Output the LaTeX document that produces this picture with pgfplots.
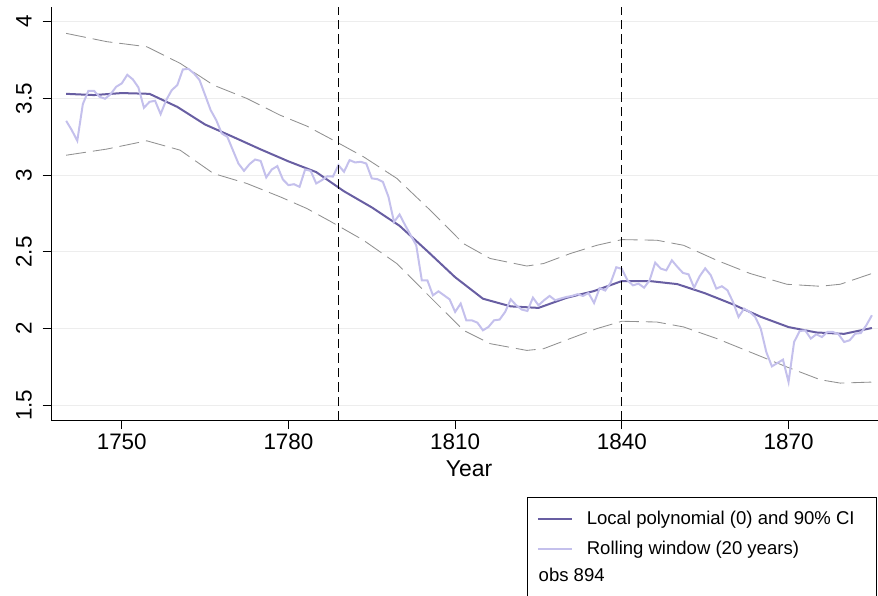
\documentclass[border=0pt]{standalone}
\usepackage{fontspec}
\setmainfont{Liberation Sans}
\usepackage{pgfplots}
\usepackage{pgfplotstable}
\pgfplotsset{compat=1.18}
\definecolor{lp}{RGB}{104,94,162}
\definecolor{rw}{RGB}{196,192,236}
\definecolor{ci}{RGB}{145,145,145}

\pgfplotstableread{
year val
1740 3.530
1745 3.522
1750 3.535
1755 3.530
1760 3.445
1765 3.330
1770 3.250
1775 3.168
1780 3.090
1785 3.020
1790 2.895
1795 2.790
1800 2.670
1805 2.505
1810 2.335
1815 2.195
1820 2.145
1825 2.135
1830 2.200
1835 2.245
1840 2.310
1845 2.310
1850 2.290
1855 2.230
1860 2.158
1865 2.077
1870 2.010
1875 1.975
1880 1.966
1885 2.004
}\lpolytab

\pgfplotstableread{
year val
1740 3.924
1747.3 3.870
1754.5 3.837
1760.5 3.729
1766.5 3.587
1772.5 3.500
1778.5 3.391
1783.3 3.320
1787.5 3.239
1793.5 3.120
1799.5 2.979
1805.5 2.772
1811.5 2.554
1816.3 2.457
1822.9 2.408
1825.9 2.424
1830.7 2.489
1835.5 2.543
1840 2.580
1846.3 2.576
1851.1 2.543
1857.1 2.445
1863.1 2.359
1869.7 2.289
1875.7 2.276
1879.3 2.289
1885.3 2.363
}\upperci

\pgfplotstableread{
year val
1740 3.130
1747.3 3.170
1754.5 3.224
1760.5 3.163
1766.5 3.011
1772.5 2.946
1778.5 2.859
1783.3 2.783
1787.5 2.700
1793.5 2.576
1799.5 2.424
1805.5 2.206
1811.5 1.989
1816.3 1.902
1822.9 1.858
1825.9 1.869
1830.7 1.935
1835.5 2.000
1840 2.048
1846.3 2.043
1851.1 2.011
1857.1 1.935
1863.1 1.847
1869.7 1.750
1875.7 1.667
1879.3 1.645
1885.3 1.652
}\lowerci

\pgfplotstableread{
year val
1740 3.354
1741 3.294
1742 3.224
1743 3.463
1744 3.550
1745 3.550
1746 3.511
1747 3.498
1748 3.528
1749 3.576
1750 3.598
1751 3.654
1752 3.624
1753 3.572
1754 3.439
1755 3.478
1756 3.485
1757 3.398
1758 3.489
1759 3.554
1760 3.587
1761 3.689
1762 3.693
1763 3.663
1764 3.620
1765 3.522
1766 3.424
1767 3.359
1768 3.272
1769 3.250
1770 3.163
1771 3.076
1772 3.028
1773 3.072
1774 3.102
1775 3.093
1776 2.985
1777 3.037
1778 3.059
1779 2.972
1780 2.935
1781 2.941
1782 2.924
1783 3.037
1784 3.028
1785 2.946
1786 2.967
1787 2.993
1788 2.991
1789 3.065
1790 3.022
1791 3.098
1792 3.083
1793 3.087
1794 3.076
1795 2.979
1796 2.974
1797 2.956
1798 2.859
1799 2.695
1800 2.744
1801 2.674
1802 2.609
1803 2.543
1804 2.315
1805 2.315
1806 2.217
1807 2.243
1808 2.217
1809 2.191
1810 2.109
1811 2.163
1812 2.054
1813 2.054
1814 2.039
1815 1.989
1816 2.011
1817 2.054
1818 2.059
1819 2.109
1820 2.191
1821 2.152
1822 2.124
1823 2.115
1824 2.202
1825 2.152
1826 2.185
1827 2.213
1828 2.185
1829 2.196
1830 2.206
1831 2.213
1832 2.224
1833 2.213
1834 2.232
1835 2.167
1836 2.264
1837 2.248
1838 2.300
1839 2.400
1840 2.389
1841 2.315
1842 2.282
1843 2.293
1844 2.267
1845 2.315
1846 2.430
1847 2.391
1848 2.380
1849 2.445
1850 2.402
1851 2.363
1852 2.354
1853 2.267
1854 2.341
1855 2.393
1856 2.348
1857 2.261
1858 2.276
1859 2.250
1860 2.174
1861 2.076
1862 2.130
1863 2.109
1864 2.076
1865 2.000
1866 1.847
1867 1.754
1868 1.776
1869 1.798
1870 1.652
1871 1.913
1872 1.984
1873 1.989
1874 1.935
1875 1.963
1876 1.945
1877 1.978
1878 1.978
1879 1.963
1880 1.913
1881 1.924
1882 1.967
1883 1.971
1884 2.022
1885 2.087
}\rolltab

\begin{document}
\begin{tikzpicture}[x=1bp,y=1bp]
\path[use as bounding box] (0,0) rectangle (878,596);
\begin{axis}[
  at={(51bp,175.3bp)}, anchor=south west,
  scale only axis, width=827bp, height=413.7bp,
  xmin=1737.27, xmax=1886.1, ymin=1.4, ymax=4.096,
  axis x line=bottom, axis y line=left,
  axis line style={-, line width=1bp, black},
  xtick={1750,1780,1810,1840,1870},
  ytick={1.5,2,2.5,3,3.5,4},
  yticklabels={1.5,2,2.5,3,3.5,4},
  xticklabels={1750,1780,1810,1840,1870},
  tick align=outside, major tick length=8.5bp,
  tick style={black, line width=1bp},
  ymajorgrids, major grid style={line width=0.8bp, color=black!7},
  xticklabel style={font=\fontsize{22.5}{27}\selectfont, anchor=base, inner sep=0pt, yshift=-20.8bp},
  yticklabel style={font=\fontsize{22.5}{27}\selectfont, xshift=-10.8bp, rotate=90, anchor=base, inner sep=0pt},
  xlabel={Year},
  xlabel style={at={(axis description cs:0.5054,-0.1354)}, anchor=base, font=\fontsize{23}{27}\selectfont, inner sep=0pt},
  legend style={at={(axis description cs:0.5877,-0.2195)}, anchor=north west, draw=none, fill=none,
    font=\fontsize{18.6}{22}\selectfont, inner sep=0pt, outer sep=0pt, nodes={inner sep=0pt},
    row sep=14.9bp, /tikz/every odd column/.append style={column sep=14bp}},
  legend cell align=left,
  legend image code/.code={\draw[#1] (0bp,0bp) -- (34bp,0bp); \path (0bp,-6.4bp);},
  clip=false,
]
\addlegendimage{lp, line width=1.8bp}
\addlegendentry{Local polynomial (0) and 90\% CI}
\addlegendimage{rw, line width=1.8bp}
\addlegendentry{Rolling window (20 years)}

\addplot[forget plot, ci, line width=0.85bp, dash pattern=on 20bp off 7bp] table[x=year,y=val] {\upperci};
\addplot[forget plot, ci, line width=0.85bp, dash pattern=on 20bp off 7bp] table[x=year,y=val] {\lowerci};
\addplot[forget plot, lp, line width=2bp] table[x=year,y=val] {\lpolytab};
\addplot[forget plot, rw, line width=2bp] table[x=year,y=val] {\rolltab};
\addplot[forget plot, black, line width=1.2bp, dash pattern=on 9.5bp off 5bp] coordinates {(1789,1.4) (1789,4.096)};
\addplot[forget plot, black, line width=1.2bp, dash pattern=on 9.5bp off 5bp] coordinates {(1840,1.4) (1840,4.096)};
\end{axis}
\node[anchor=base west, font=\fontsize{18.6}{22}\selectfont, inner sep=0pt] at (538.5,14.3) {obs 894};
\draw[line width=0.9bp] (527.3,-10) -- (527.3,98.7) -- (876.7,98.7) -- (876.7,-10);
\end{tikzpicture}
\end{document}
